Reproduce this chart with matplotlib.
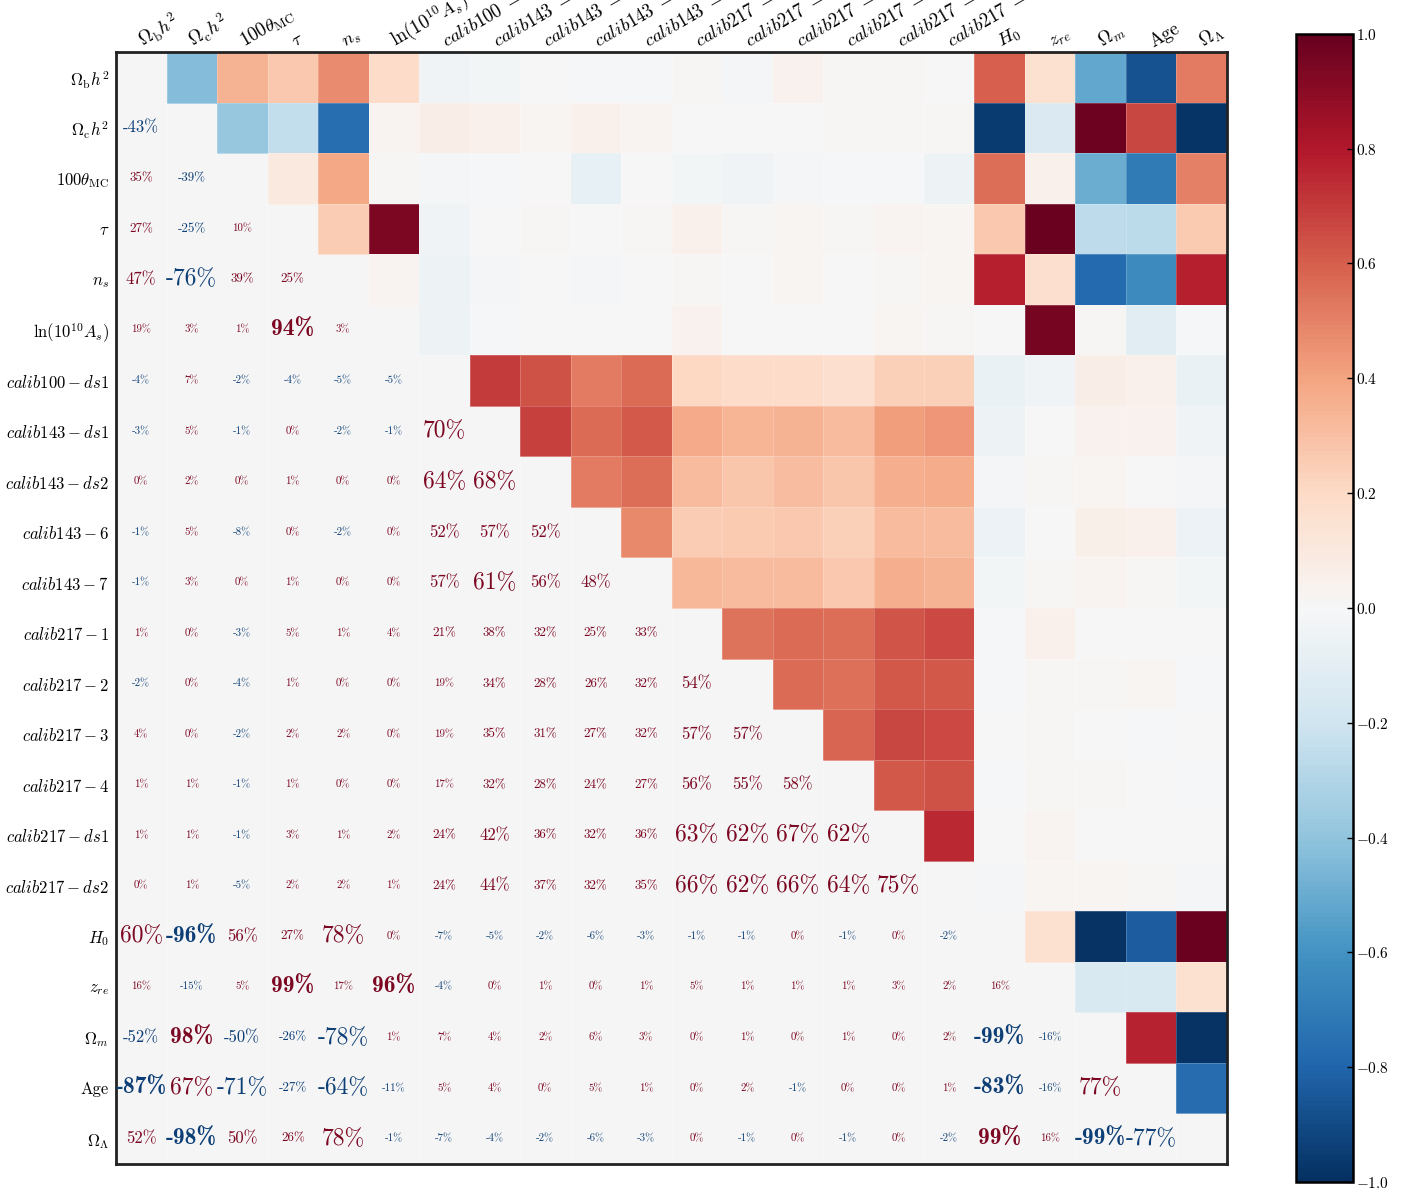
import numpy as np
import matplotlib.pyplot as plt
from matplotlib import transforms
from matplotlib.ticker import FuncFormatter

plt.rcParams['font.family'] = 'cmr10'
plt.rcParams['mathtext.fontset'] = 'cm'
plt.rcParams['axes.formatter.use_mathtext'] = True

# parameter names (rows) and the clipped top labels
row_labels = [r'$\Omega_{\rm b}h^2$', r'$\Omega_{\rm c}h^2$', r'$100\theta_{\rm MC}$',
              r'$\tau$', r'$n_s$', r'${\rm ln}(10^{10}A_s)$',
              r'$calib100-ds1$', r'$calib143-ds1$', r'$calib143-ds2$',
              r'$calib143-6$', r'$calib143-7$', r'$calib217-1$', r'$calib217-2$',
              r'$calib217-3$', r'$calib217-4$', r'$calib217-ds1$', r'$calib217-ds2$',
              r'$H_0$', r'$z_{re}$', r'$\Omega_m$', 'Age', r'$\Omega_\Lambda$']
top_labels = row_labels[:6] + [r'$calib100\;-$'] + [r'$calib143\;-$'] * 4 \
    + [r'$calib217\;-$'] * 6 + row_labels[17:]

# lower triangle of the correlation matrix, in percent (row i, columns 0..i-1)
base_rows = [
    [-43],
    [35, -39],
    [27, -25, 10],
    [47, -76, 39, 25],
    [19, 3, 1, 94, 3],
]
calib_rows = [
    [-4, 7, -2, -4, -5, -5],
    [-3, 5, -1, 0, -2, -1, 70],
    [0, 2, 0, 1, 0, 0, 64, 68],
    [-1, 5, -8, 0, -2, 0, 52, 57, 52],
    [-1, 3, 0, 1, 0, 0, 57, 61, 56, 48],
    [1, 0, -3, 5, 1, 4, 21, 38, 32, 25, 33],
    [-2, 0, -4, 1, 0, 0, 19, 34, 28, 26, 32, 54],
    [4, 0, -2, 2, 2, 0, 19, 35, 31, 27, 32, 57, 57],
    [1, 1, -1, 1, 0, 0, 17, 32, 28, 24, 27, 56, 55, 58],
    [1, 1, -1, 3, 1, 2, 24, 42, 36, 32, 36, 63, 62, 67, 62],
    [0, 1, -5, 2, 2, 1, 24, 44, 37, 32, 35, 66, 62, 66, 64, 75],
]
derived_rows = [
    [60, -96, 56, 27, 78, 0, -7, -5, -2, -6, -3, -1, -1, 0, -1, 0, -2],
    [16, -15, 5, 99, 17, 96, -4, 0, 1, 0, 1, 5, 1, 1, 1, 3, 2, 16],
    [-52, 98, -50, -26, -78, 1, 7, 4, 2, 6, 3, 0, 1, 0, 1, 0, 2, -99, -16],
    [-87, 67, -71, -27, -64, -11, 5, 4, 0, 5, 1, 0, 2, -1, 0, 0, 1, -83, -16, 77],
    [52, -98, 50, 26, 78, -1, -7, -4, -2, -6, -3, 0, -1, 0, -1, 0, -2, 99, 16, -99, -77],
]

lower = [[]] + base_rows + calib_rows + derived_rows
n = len(row_labels)
corr = np.zeros((n, n))
for i, row in enumerate(lower):
    for j, v in enumerate(row):
        corr[i, j] = v / 100.
        corr[j, i] = v / 100.

cmap = plt.cm.RdBu_r
upper = np.ma.masked_where(np.tril(np.ones((n, n))) > 0, corr)

fig = plt.figure(figsize=(14.17, 11.91), dpi=100)
ax = fig.add_axes([0.0819, 0.0227, 0.7840, 0.9336])
ax.set_facecolor('#f5f5f5')
mesh = ax.pcolormesh(np.arange(n + 1), np.arange(n + 1), upper, cmap=cmap,
                     vmin=-1, vmax=1, edgecolors=(1, 1, 1, 0.2), linewidth=0.5)
ax.set_xlim(0, n)
ax.set_ylim(n, 0)

# percentages in the lower triangle, size and weight by strength
pos_col = cmap(0.97)
neg_col = cmap(0.03)
for i, row in enumerate(lower):
    for j, v in enumerate(row):
        a = abs(v)
        if a >= 80:
            size, fam = 17, 'cmb10'
        elif a >= 60:
            size, fam = 17, 'cmr10'
        elif a >= 40:
            size, fam = 12, 'cmr10'
        elif a >= 20:
            size, fam = 9.4, 'cmr10'
        else:
            size, fam = 7.8, 'cmr10'
        ax.text(j + 0.5, i + 0.5, '%d%%' % v, ha='center', va='center',
                fontsize=size, family=fam, color=pos_col if v >= 0 else neg_col)

ax.set_yticks(np.arange(n) + 0.5)
ax.set_yticklabels(row_labels, fontsize=12)
ax.set_xticks([])
ax.tick_params(length=0, pad=5)

# top labels, rotated, starting at each column centre
top_tr = transforms.offset_copy(ax.get_xaxis_transform(), fig=fig, x=1.5, y=3.5, units='points')
for j, lab in enumerate(top_labels):
    ax.text(j + 0.5, 1.0, lab, transform=top_tr, rotation=30, rotation_mode='anchor',
            ha='left', va='baseline', fontsize=13.5, clip_on=False)

for s in ax.spines.values():
    s.set_linewidth(2)
    s.set_color('#222222')

cax = fig.add_axes([0.9146, 0.0076, 0.0402, 0.964])
cb = fig.colorbar(mesh, cax=cax, ticks=np.linspace(-1, 1, 11),
                  format=FuncFormatter(lambda x, p: r'$%.1f$' % x))
cb.outline.set_linewidth(1.8)
cax.tick_params(direction='in', length=4, width=1, labelsize=11, pad=2)

fig.savefig('out.png', dpi=100)
